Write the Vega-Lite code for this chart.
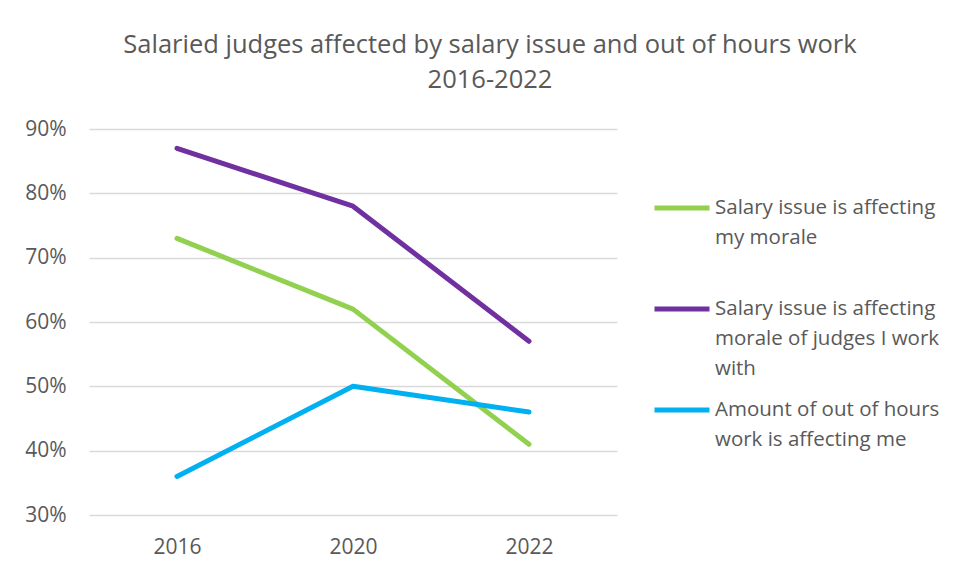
{
  "$schema": "https://vega.github.io/schema/vega-lite/v6.json",
  "autosize": {"type": "none"},
  "width": 528,
  "height": 386,
  "padding": {"left": 89, "top": 129, "right": 343, "bottom": 56},
  "background": "white",
  "title": {
    "text": ["Salaried judges affected by salary issue and out of hours work", "2016-2022"],
    "anchor": "middle",
    "frame": "group",
    "dx": 137,
    "offset": 25,
    "font": "Open Sans",
    "fontSize": 25.5,
    "fontWeight": "normal",
    "color": "#595959",
    "lineHeight": 35
  },
  "config": {
    "view": {"stroke": null},
    "font": "Open Sans"
  },
  "data": {
    "values": [
      {"year": "2016", "series": "Salary issue is affecting my morale", "value": 0.73},
      {"year": "2020", "series": "Salary issue is affecting my morale", "value": 0.62},
      {"year": "2022", "series": "Salary issue is affecting my morale", "value": 0.41},
      {"year": "2016", "series": "Salary issue is affecting morale of judges I work with", "value": 0.87},
      {"year": "2020", "series": "Salary issue is affecting morale of judges I work with", "value": 0.78},
      {"year": "2022", "series": "Salary issue is affecting morale of judges I work with", "value": 0.57},
      {"year": "2016", "series": "Amount of out of hours work is affecting me", "value": 0.36},
      {"year": "2020", "series": "Amount of out of hours work is affecting me", "value": 0.50},
      {"year": "2022", "series": "Amount of out of hours work is affecting me", "value": 0.46}
    ]
  },
  "mark": {"type": "line", "strokeWidth": 5, "strokeCap": "round", "strokeJoin": "round"},
  "encoding": {
    "x": {
      "field": "year",
      "type": "ordinal",
      "scale": {"type": "point", "padding": 0.5},
      "axis": {
        "title": null,
        "labelAngle": 0,
        "labelFont": "Open Sans",
        "labelFontSize": 21,
        "labelColor": "#595959",
        "labelPadding": 21,
        "ticks": false,
        "domain": false,
        "grid": false
      }
    },
    "y": {
      "field": "value",
      "type": "quantitative",
      "scale": {"domain": [0.3, 0.9], "nice": false, "zero": false},
      "axis": {
        "title": null,
        "format": ".0%",
        "values": [0.3, 0.4, 0.5, 0.6, 0.7, 0.8, 0.9],
        "labelFont": "Open Sans",
        "labelFontSize": 21,
        "labelColor": "#595959",
        "labelPadding": 23,
        "ticks": false,
        "domain": false,
        "grid": true,
        "gridColor": "#d9d9d9",
        "gridWidth": 1.5
      }
    },
    "color": {
      "field": "series",
      "type": "nominal",
      "sort": null,
      "scale": {
        "domain": [
          "Salary issue is affecting my morale",
          "Salary issue is affecting morale of judges I work with",
          "Amount of out of hours work is affecting me"
        ],
        "range": ["#92d050", "#7030a0", "#00b0f0"]
      },
      "legend": {
        "title": null,
        "orient": "none",
        "legendX": 563,
        "legendY": 49,
        "symbolType": "stroke",
        "symbolSize": 3025,
        "symbolStrokeWidth": 5,
        "labelFont": "Open Sans",
        "labelFontSize": 20.5,
        "labelColor": "#595959",
        "labelOffset": 3,
        "labelLimit": 320,
        "rowPadding": 0,
        "labelExpr": "datum.label == 'Salary issue is affecting my morale' ? ['Salary issue is affecting', 'my morale', ''] : datum.label == 'Salary issue is affecting morale of judges I work with' ? ['Salary issue is affecting', 'morale of judges I work', 'with'] : ['Amount of out of hours', 'work is affecting me']",
        "labelBaseline": "top",
        "encode": {
          "labels": {"update": {"lineHeight": {"value": 30}, "dy": {"value": -10}}}
        }
      }
    }
  }
}
